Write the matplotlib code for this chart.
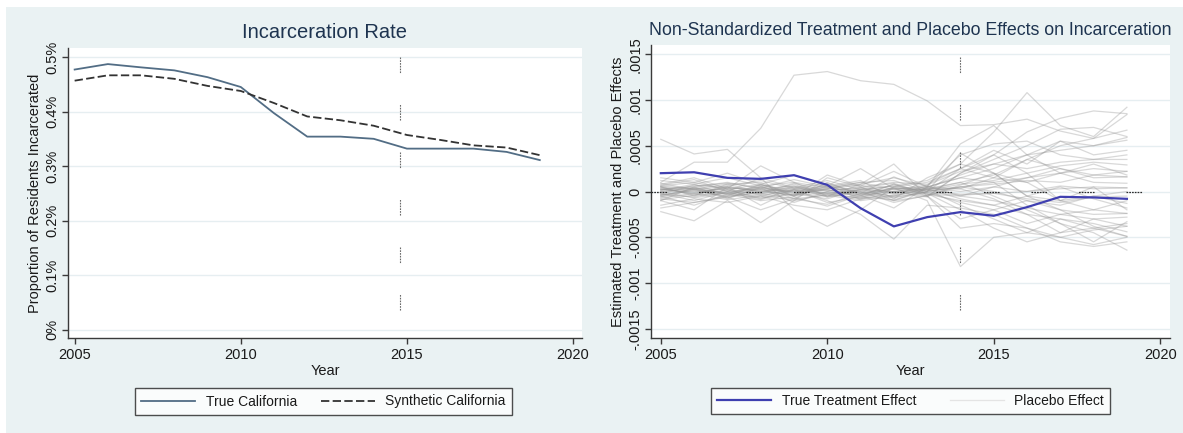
import matplotlib
matplotlib.use('Agg')
import matplotlib.pyplot as plt
from matplotlib.patches import Rectangle
from matplotlib.ticker import FuncFormatter

years = list(range(2005, 2020))

# incarceration rate, percent of residents
true_ca = [0.477, 0.487, 0.481, 0.4755, 0.463, 0.445, 0.397, 0.354,
           0.354, 0.350, 0.332, 0.332, 0.332, 0.326, 0.311]
synth_ca = [0.4566, 0.4664, 0.4664, 0.460, 0.447, 0.4377, 0.4156, 0.391,
            0.384, 0.374, 0.357, 0.348, 0.338, 0.334, 0.320]

# treatment effect (gap true - synthetic), proportion
true_effect = [0.000200, 0.000210, 0.000149, 0.000138, 0.000178, 0.0000726,
               -0.000182, -0.000381, -0.000280, -0.000225, -0.000265,
               -0.000171, -0.000058, -0.000065, -0.000080]

# placebo gaps for donor states, in units of 1e-4
placebo_e4 = [
    [1.0, 3.2, 3.2, 6.9, 12.7, 13.1, 12.1, 11.7, 9.9, 7.2, 7.3, 7.9, 6.6, 5.8, 8.4],
    [5.7, 4.1, 4.6, 1.5, -2.0, -3.8, -2.0, 0.5, 1.0, 2.5, 4.0, 6.5, 8.0, 8.8, 8.5],
    [0.5, -0.5, 0.8, 1.0, -0.5, 0.6, 1.2, -0.8, 1.5, 3.0, 6.5, 10.8, 7.2, 6.0, 9.2],
    [-0.5, 0.3, -0.8, 0.5, -0.3, 0.2, -0.6, 0.4, -1.0, -8.2, -5.0, -4.5, -3.0, -4.0, -3.5],
    [-1.0, -2.0, 0.5, -1.5, 0.2, -1.0, -2.5, -5.2, -1.5, -1.8, -2.5, -4.0, -5.5, -6.0, -5.5],
    [0.8, 1.5, 0.3, 2.8, 1.0, -0.5, 0.8, 3.0, -0.5, 2.0, 3.5, 5.0, 6.8, 7.0, 6.0],
    [-2.2, -3.2, -1.0, -3.4, -1.0, 1.5, 0.5, -1.0, 0.3, 1.0, -0.5, -2.0, -3.5, -4.5, -6.4],
    [0.3, -0.2, 0.5, 0.0, 0.4, -0.3, 0.2, 0.6, 0.0, 0.5, 1.0, 1.5, 2.0, 2.5, 2.2],
    [-0.4, 0.3, -0.2, 0.5, -0.1, 0.2, -0.4, 0.0, 0.3, -0.8, -1.5, -2.5, -3.0, -3.5, -4.4],
    [0.6, 1.0, 0.2, 0.8, -0.5, 1.8, 0.6, 2.2, 0.5, 1.5, 2.5, 4.0, 4.5, 5.0, 5.6],
    [-0.8, -1.2, -0.5, -0.2, -0.8, -0.4, -1.0, -0.5, 0.2, -1.5, -3.0, -4.5, -5.0, -5.8, -5.0],
    [0.2, 0.5, 1.0, 0.3, 0.6, 0.0, 0.5, 1.0, 0.8, 2.5, 4.5, 3.0, 5.5, 4.0, 4.5],
    [-0.3, -0.6, 0.2, -0.8, 0.3, -0.6, 0.0, -1.2, -0.4, 0.5, 0.0, -1.0, -2.0, -2.5, -2.4],
    [1.2, 0.8, 1.5, 0.6, 1.0, 0.4, 0.8, 1.5, 0.6, 4.0, 5.2, 5.5, 4.0, 3.5, 4.0],
    [-1.5, -0.8, -1.2, -0.5, -1.5, -2.0, -0.8, 0.3, -0.5, -3.0, -2.0, -1.0, -1.5, -0.5, -1.3],
    [0.0, 0.4, -0.3, 0.2, 0.0, 0.5, -0.2, 0.3, 0.1, 0.8, 1.2, 2.0, 2.8, 3.2, 2.9],
    [0.5, -0.4, 0.6, -0.2, 0.8, -0.5, 0.4, -0.3, 0.6, -0.5, -1.0, -1.8, -2.5, -3.0, -3.8],
    [-0.6, 0.2, -0.5, 0.8, -0.2, -0.8, 0.3, 0.0, -0.6, 2.0, 4.0, 2.0, -1.0, -2.0, -1.0],
    [0.9, 0.2, 0.6, 1.2, 0.3, 0.9, -0.2, 1.6, 0.2, 1.0, 1.8, 3.5, 5.0, 5.8, 6.7],
    [-0.2, -1.0, 0.0, -0.6, 0.5, -0.2, -0.8, -0.4, 0.3, 0.3, -0.8, -2.5, -4.5, -4.0, -4.9],
    [0.4, 0.0, 0.3, -0.4, 0.2, 0.6, 0.0, -0.5, 0.4, 0.0, 0.5, 0.0, 0.3, 0.5, 0.4],
    [-1.0, 0.5, -0.7, 0.4, -1.2, 0.0, -0.5, 0.8, -0.2, -2.0, -4.0, -5.5, -4.5, -3.0, -2.8],
    [0.7, 1.3, 0.0, 1.5, 0.4, 1.2, 0.2, 0.6, 1.2, 3.0, 2.0, 1.0, 2.0, 3.0, 1.8],
    [-0.5, -1.5, -0.3, -1.0, -0.6, -1.6, -0.4, -1.8, 0.5, 1.5, 1.0, -1.5, -3.5, -5.5, -3.3],
    [0.2, 0.6, 0.9, 0.4, 1.3, 0.5, 1.0, 0.2, 0.7, 2.2, 3.0, 2.5, 3.2, 3.5, 3.5],
    [-0.7, -0.2, -0.9, -0.4, -1.0, -0.3, -0.7, 0.5, -0.3, -0.5, 0.5, 1.5, 2.5, 1.5, 1.6],
    [0.1, 0.8, -0.4, 0.6, -0.8, 1.0, -0.4, 0.8, -0.5, 0.7, 2.0, -0.5, -2.0, -3.8, -4.9],
    [1.5, 1.0, 2.0, 0.8, 1.8, 0.6, 2.5, 0.3, 0.5, 5.2, 7.2, 4.0, 2.0, 1.0, 0.9],
    [-1.8, -1.2, -0.6, -2.0, -0.8, -1.4, -0.2, -1.0, -0.5, -4.0, -3.5, -4.0, -5.0, -4.2, -3.8],
    [0.3, -0.3, 0.4, 0.1, -0.4, 0.3, 0.7, -0.2, 0.4, 1.8, 3.0, 4.0, 5.5, 5.0, 5.9],
    [-0.1, 0.4, 0.1, -0.3, 0.6, -0.6, 0.2, -0.6, -0.1, -1.2, -2.0, -3.5, -2.5, -2.0, -2.4],
    [0.5, 0.2, -0.2, 0.7, 0.1, 0.3, 1.0, 1.2, 0.0, 0.5, 0.8, 1.2, 1.0, 1.8, 1.6],
    [-0.3, 0.7, 0.4, 0.2, -0.5, -0.1, -0.3, 0.4, 0.2, -0.3, -0.2, -0.8, -1.2, -0.6, -0.5],
    [0.0, -0.7, -0.1, -0.9, 0.2, -1.2, -0.6, -0.9, 0.0, 2.5, 1.5, 3.5, 2.5, 1.8, 2.2],
    [0.6, 0.3, 0.8, -0.1, 0.9, 0.1, 0.4, 0.9, -0.3, -1.0, -1.5, -0.5, 0.5, -0.8, -1.8],
    [-0.9, -0.4, -0.2, -0.7, -0.3, 0.8, -0.9, 0.0, 0.5, 0.3, 1.5, 1.0, -1.0, -0.5, 0.0],
    [0.2, -0.1, 0.0, 0.3, 0.0, -0.2, 0.1, 0.0, -0.1, -0.4, -0.2, 0.0, 0.6, 0.3, 0.4],
    [-0.4, 0.1, -0.6, 0.0, -0.4, 0.4, -0.1, -0.7, 0.0, 4.2, 2.0, -0.5, -1.0, 0.5, -2.0],
]

left_ticks = [0, 0.1, 0.2, 0.3, 0.4, 0.5]
right_ticks = [-0.0015, -0.001, -0.0005, 0, 0.0005, 0.001, 0.0015]
right_ticklabels = ['-.0015', '-.001', '-.0005', '0', '.0005', '.001', '.0015']
x_ticks = [2005, 2010, 2015, 2020]

BG = '#EAF2F3'
GRID = '#E6EEF1'
TITLE = '#1E3450'
TXT = '#1a1a1a'
# gappy line made of fine dots, like the stata reference line
REFDASH = (0, [1.2, 0.8] * 5 + [1.2, 23.0])

plt.rcParams['font.family'] = ['Liberation Sans', 'DejaVu Sans']
plt.rcParams['lines.scale_dashes'] = False

fig = plt.figure(figsize=(11.83, 4.33), dpi=100)
fig.patch.set_facecolor('white')
fig.patches.append(Rectangle((6 / 1183, 0), 1, 1 - 7 / 433, transform=fig.transFigure,
                             facecolor=BG, edgecolor='none', zorder=-10))


def style_axes(ax):
    ax.set_facecolor('white')
    for s in ['top', 'right']:
        ax.spines[s].set_visible(False)
    for s in ['left', 'bottom']:
        ax.spines[s].set_color('#3a3a3a')
        ax.spines[s].set_linewidth(1.0)
    ax.tick_params(axis='both', direction='out', length=4, width=1,
                   color='#3a3a3a', labelsize=10.5, labelcolor=TXT)
    ax.tick_params(axis='y', labelrotation=90, pad=2)
    for lab in ax.get_yticklabels():
        lab.set_va('center')
    ax.yaxis.grid(True, color=GRID, lw=1.0)
    ax.set_axisbelow(True)
    ax.set_xticks(x_ticks)
    ax.set_xlabel('Year', fontsize=10.5, color=TXT, labelpad=1)


# left panel: incarceration rate
ax1 = fig.add_axes([68 / 1183, 1 - 338 / 433, 514 / 1183, 290 / 433])
ax1.plot(years, true_ca, color='#526D85', lw=1.3, label='True California')
ax1.plot(years, synth_ca, color='#333333', lw=1.3, ls=(0, (6, 2.4)),
         label='Synthetic California')
ax1.plot([2014.8, 2014.8], [0.5, 0.02], color='#6a6a6a', lw=0.8, ls=REFDASH)
ax1.set_xlim(2004.80, 2020.27)
ax1.set_ylim(-0.0152, 0.5165)
ax1.set_yticks(left_ticks)
ax1.yaxis.set_major_formatter(FuncFormatter(lambda v, p: '%g%%' % round(v, 3)))
style_axes(ax1)
ax1.set_ylabel('Proportion of Residents Incarcerated', fontsize=10.5, color=TXT,
               labelpad=3)
ax1.set_title('Incarceration Rate', fontsize=14.5, color=TITLE, pad=7)

# right panel: treatment and placebo gaps
ax2 = fig.add_axes([651 / 1183, 1 - 338 / 433, 519 / 1183, 293 / 433])
for i, row in enumerate(placebo_e4):
    ax2.plot(years, [v * 1e-4 for v in row], color='#959595', lw=0.9, alpha=0.36,
             label='Placebo Effect' if i == 0 else None, zorder=2)
ax2.plot([2004.7, 2019.6], [0, 0], color='#2a2a2a', lw=0.9, ls=REFDASH, zorder=3)
ax2.plot([2014, 2014], [0.00147, -0.00135], color='#6a6a6a', lw=0.8, ls=REFDASH,
         zorder=3)
ax2.plot(years, true_effect, color='#3F3FB0', lw=1.6, label='True Treatment Effect',
         zorder=4)
ax2.set_xlim(2004.705, 2020.295)
ax2.set_ylim(-0.0016, 0.0016)
ax2.set_yticks(right_ticks)
ax2.set_yticklabels(right_ticklabels)
style_axes(ax2)
ax2.set_ylabel('Estimated Treatment and Placebo Effects', fontsize=10.5, color=TXT,
               labelpad=3)
ax2.set_title('Non-Standardized Treatment and Placebo Effects on Incarceration',
              fontsize=12.8, color=TITLE, pad=7)

# legends below each panel
leg_kw = dict(ncol=2, loc='center', fontsize=10, frameon=True, fancybox=False,
              handlelength=3.9, handletextpad=0.75, borderpad=0.45,
              borderaxespad=0)
h1, l1 = ax1.get_legend_handles_labels()
leg1 = fig.legend(h1, l1, bbox_to_anchor=(323.5 / 1183, 1 - 401.5 / 433),
                  columnspacing=1.7, **leg_kw)
h2, l2 = ax2.get_legend_handles_labels()
order = [l2.index('True Treatment Effect'), l2.index('Placebo Effect')]
leg2 = fig.legend([h2[k] for k in order], [l2[k] for k in order],
                  bbox_to_anchor=(910.5 / 1183, 1 - 401 / 433),
                  columnspacing=2.4, **leg_kw)
for leg in (leg1, leg2):
    leg.get_frame().set_edgecolor('#222222')
    leg.get_frame().set_linewidth(1.0)
    leg.get_frame().set_facecolor('white')
    for t in leg.get_texts():
        t.set_color(TXT)
# placebo entry in the key is drawn very faint
leg2.get_lines()[1].set_color('#e4e4e4')
leg2.get_lines()[1].set_alpha(1.0)

fig.savefig('out.png', dpi=100, facecolor=fig.get_facecolor())
